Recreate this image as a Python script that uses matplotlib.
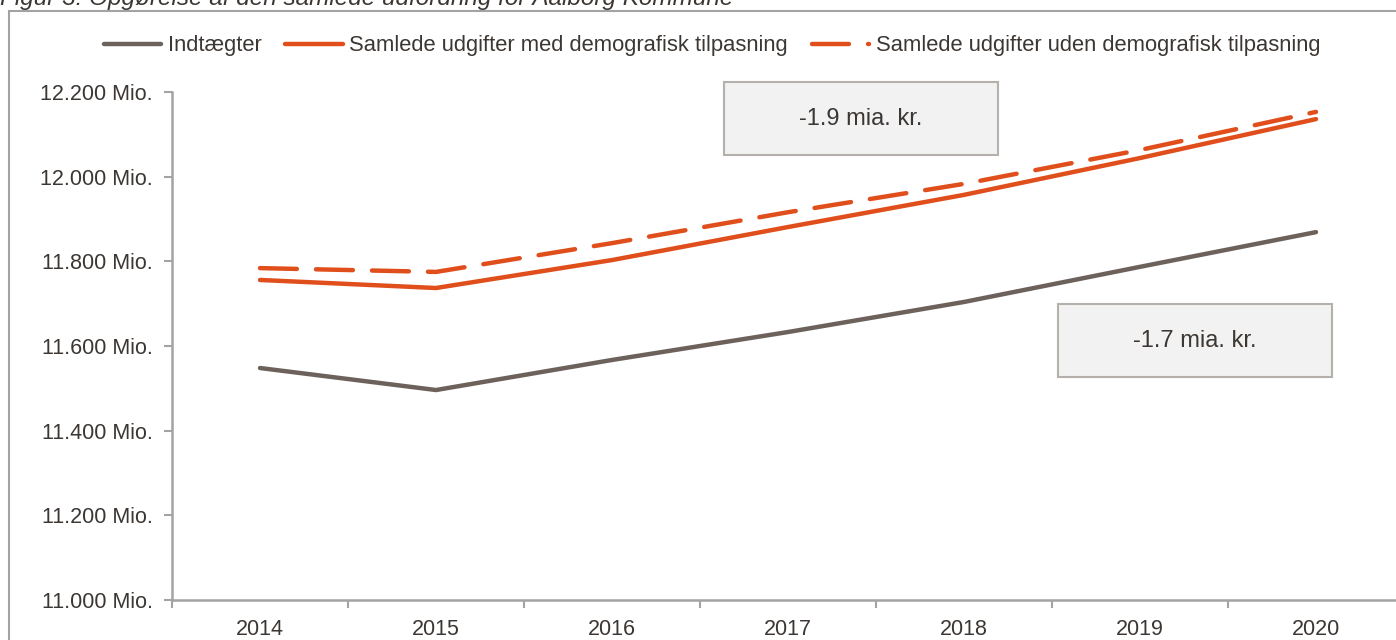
import matplotlib
matplotlib.use('Agg')
import matplotlib.pyplot as plt
from matplotlib.patches import Rectangle
from matplotlib.ticker import FuncFormatter

# data (mio. kr.)
years = ['2014', '2015', '2016', '2017', '2018', '2019', '2020']
indtaegter = [11548, 11496, 11567, 11633, 11704, 11787, 11869]
udg_med = [11756, 11737, 11803, 11881, 11957, 12044, 12136]
udg_uden = [11784, 11775, 11843, 11916, 11983, 12063, 12153]
labels = ['Indtægter',
          'Samlede udgifter med demografisk tilpasning',
          'Samlede udgifter uden demografisk tilpasning']
box_texts = ['-1.9 mia. kr.', '-1.7 mia. kr.']

GRAY = '#6d625b'
ORANGE = '#e04e1b'
AXIS = '#a3a3a3'
TXT = '#3c3733'

plt.rcParams['font.family'] = ['Liberation Sans', 'DejaVu Sans']
plt.rcParams['font.size'] = 15.5

W, H = 1396, 640
fig = plt.figure(figsize=(W / 100, H / 100), dpi=100)

# outer frame of the figure box (partly cut off)
fig.patches.append(Rectangle((9 / W, -0.1), 1.2, 1 - 11 / H + 0.1,
                             transform=fig.transFigure, fill=False,
                             edgecolor=AXIS, lw=1.5))
fig.text(0, 1 - 5 / H, 'Figur 3: Opgørelse af den samlede udfordring for Aalborg Kommune',
         style='italic', fontsize=17.5, color=TXT, va='baseline', ha='left')

ax = fig.add_axes([172 / W, 40 / H, 1232 / W, 508 / H])
x = range(len(years))
ax.plot(x, indtaegter, color=GRAY, lw=3.2, solid_capstyle='round',
        solid_joinstyle='round', label=labels[0])
ax.plot(x, udg_med, color=ORANGE, lw=3.2, solid_capstyle='round',
        solid_joinstyle='round', label=labels[1])
ax.plot(x, udg_uden, color=ORANGE, lw=3.2, ls=(0, (8.3, 4.3)), dash_capstyle='round',
        label=labels[2])

ax.set_xlim(-0.5, len(years) - 0.5)
ax.set_ylim(11000, 12200)
ax.set_yticks(range(11000, 12201, 200))
ax.yaxis.set_major_formatter(FuncFormatter(lambda v, p: f'{int(v):,} Mio.'.replace(',', '.')))
ax.set_xticks(list(x))
ax.set_xticklabels(years)
ax.set_xticks([i - 0.5 for i in range(len(years) + 1)], minor=True)
ax.tick_params(axis='x', which='major', length=0, pad=14, colors=TXT)
ax.tick_params(axis='x', which='minor', length=6, width=1.5, color=AXIS)
ax.tick_params(axis='y', length=6, width=1.5, color=AXIS, labelcolor=TXT, pad=8)
for s in ['top', 'right']:
    ax.spines[s].set_visible(False)
for s in ['left', 'bottom']:
    ax.spines[s].set_color(AXIS)
    ax.spines[s].set_linewidth(1.8)
ax.patch.set_visible(False)

# annotation boxes
for (bx, by), t in zip([(0.448, 0.876), (0.719, 0.439)], box_texts):
    ax.add_patch(Rectangle((bx, by), 0.2224, 0.1437, transform=ax.transAxes,
                           facecolor='#f2f2f2', edgecolor='#b5b0ab', lw=1.5,
                           clip_on=False, zorder=3))
    ax.text(bx + 0.1112, by + 0.0718, t, transform=ax.transAxes, ha='center',
            va='center', fontsize=17, color=TXT, zorder=4)

leg = fig.legend(loc='center', bbox_to_anchor=(712 / W, 1 - 46 / H), ncol=3,
                 frameon=False, handlelength=2.6, handletextpad=0.3,
                 columnspacing=1.1, fontsize=15.8)
for t in leg.get_texts():
    t.set_color(TXT)

fig.savefig('out.png', dpi=100)
